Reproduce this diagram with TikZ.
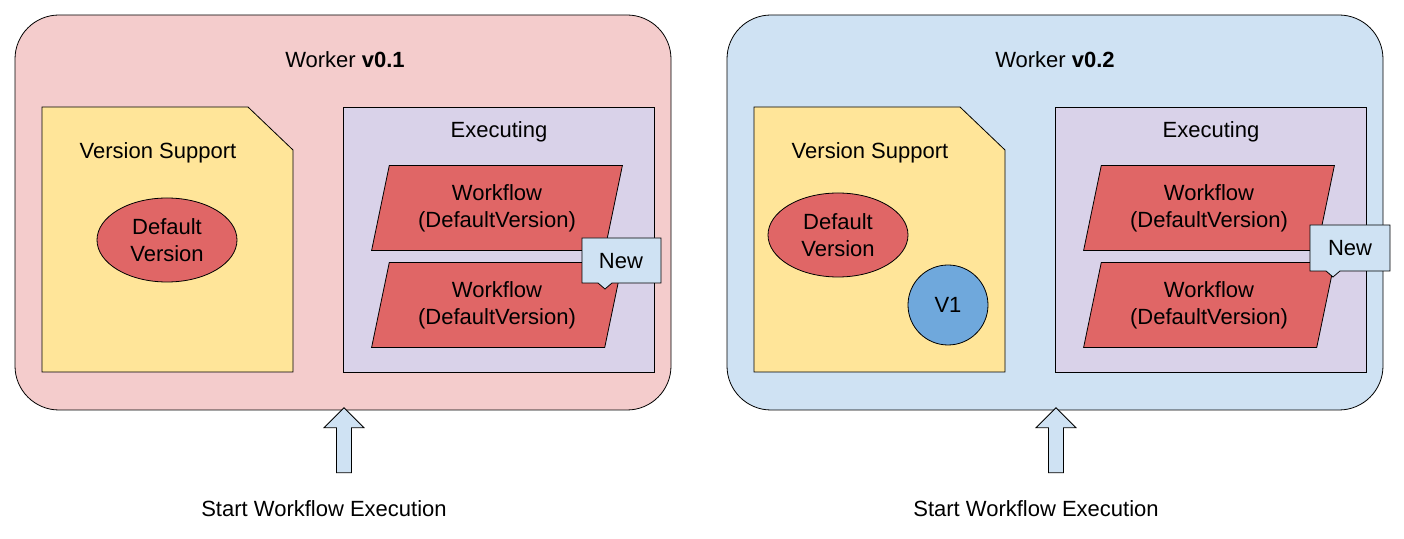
\documentclass[tikz,border=0pt]{standalone}
\usepackage{fontspec}
\setmainfont{Liberation Sans}
\usetikzlibrary{shapes.geometric,shapes.arrows}
\definecolor{pinkbg}{HTML}{F4CCCC}
\definecolor{bluebg}{HTML}{CFE2F3}
\definecolor{docyellow}{HTML}{FFE599}
\definecolor{execpurple}{HTML}{D9D2E9}
\definecolor{wfred}{HTML}{E06666}
\definecolor{vblue}{HTML}{6FA8DC}
\tikzset{
	txt/.style={font=\fontsize{11}{13.5}\selectfont, align=center},
	wf/.style={trapezium, trapezium stretches=true, trapezium left angle=77, trapezium right angle=103,
		draw=black, fill=wfred, minimum width=126pt, minimum height=42.5pt, txt},
}
\begin{document}
\begin{tikzpicture}[x=0.5pt,y=-0.5pt]
	\useasboundingbox (0,0) rectangle (1404,539);

	% worker v0.1
	\draw[fill=pinkbg, rounded corners=22pt] (15,15) rectangle (671,410);
	\node[txt] (t1) at (345,60) {Worker \textbf{v0.1}};
	\draw[fill=docyellow] (42,107) -- (248,107) -- (293,150) -- (293,372) -- (42,372) -- cycle;
	\node[txt] (vs1) at (158,153) {Version Support};
	\node[ellipse, draw=black, fill=wfred, minimum width=70pt, minimum height=42pt, txt] (dv1) at (167,240) {Default\\Version};
	\draw[fill=execpurple] (343,107) rectangle (654,372);
	\node[txt] (ex1) at (499,132) {Executing};
	\node[wf] (wa1) at (497,208) {Workflow\\(DefaultVersion)};
	\node[wf] (wb1) at (497,305) {Workflow\\(DefaultVersion)};
	\draw[fill=bluebg] (582,238) -- (661,238) -- (661,283) -- (612,283) -- (605,289) -- (598,283) -- (582,283) -- cycle;
	\node[txt] (n1) at (621,261) {New};
	\node[single arrow, draw=black, fill=bluebg, shape border rotate=90, minimum height=32.5pt,
		minimum width=20pt, single arrow head extend=4.5pt, inner sep=2.5pt] (ar1) at (344,444) {};
	\node[txt] (s1) at (324,509) {Start Workflow Execution};

	% worker v0.2
	\draw[fill=bluebg, rounded corners=22pt] (727,15) rectangle (1383,410);
	\node[txt] (t2) at (1055,60) {Worker \textbf{v0.2}};
	\draw[fill=docyellow] (754,107) -- (960,107) -- (1005,150) -- (1005,372) -- (754,372) -- cycle;
	\node[txt] (vs2) at (870,153) {Version Support};
	\node[ellipse, draw=black, fill=wfred, minimum width=70pt, minimum height=42pt, txt] (dv2) at (838,235) {Default\\Version};
	\node[circle, draw=black, fill=vblue, minimum size=40pt, txt] (v1) at (948,305) {V1};
	\draw[fill=execpurple] (1055,107) rectangle (1366,372);
	\node[txt] (ex2) at (1211,132) {Executing};
	\node[wf] (wa2) at (1209,208) {Workflow\\(DefaultVersion)};
	\node[wf] (wb2) at (1209,305) {Workflow\\(DefaultVersion)};
	\draw[fill=bluebg] (1310,225) -- (1390,225) -- (1390,271) -- (1340,271) -- (1333,277) -- (1326,271) -- (1310,271) -- cycle;
	\node[txt] (n2) at (1350,248) {New};
	\node[single arrow, draw=black, fill=bluebg, shape border rotate=90, minimum height=32.5pt,
		minimum width=20pt, single arrow head extend=4.5pt, inner sep=2.5pt] (ar2) at (1056,444) {};
	\node[txt] (s2) at (1036,509) {Start Workflow Execution};
\end{tikzpicture}
\end{document}
